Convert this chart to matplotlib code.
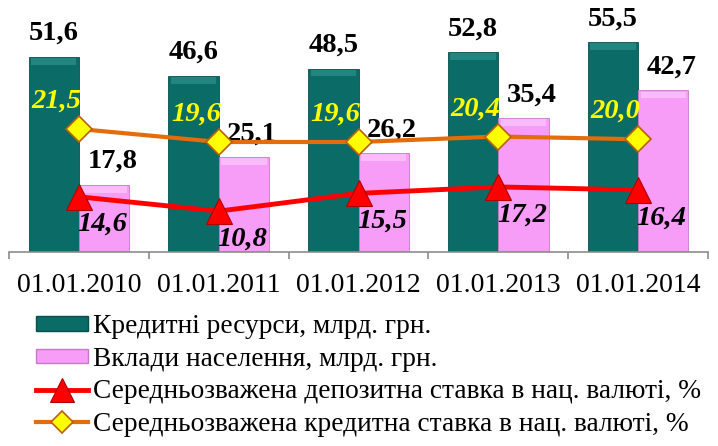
import matplotlib
matplotlib.use("Agg")
import matplotlib.pyplot as plt
from matplotlib.patches import Patch
from matplotlib.lines import Line2D
import numpy as np

# Data
dates = ['01.01.2010', '01.01.2011', '01.01.2012', '01.01.2013', '01.01.2014']
credit_res = [51.6, 46.6, 48.5, 52.8, 55.5]        # кредитні ресурси, млрд. грн
deposits = [17.8, 25.1, 26.2, 35.4, 42.7]          # вклади населення, млрд. грн
deposit_rate = [14.6, 10.8, 15.5, 17.2, 16.4]      # депозитна ставка, %
credit_rate = [21.5, 19.6, 19.6, 20.4, 20.0]       # кредитна ставка, %

labels = ['Кредитні ресурси, млрд. грн.',
          'Вклади населення, млрд. грн.',
          'Середньозважена депозитна ставка в нац. валюті, %',
          'Середньозважена кредитна ставка в нац. валюті, %']

TEAL = '#0b6b66'
TEAL_TOP = '#2c918a'
TEAL_EDGE = '#07504c'
PINK = '#f79cf7'
PINK_TOP = '#fcc4fc'
PINK_EDGE = '#c77ac7'
ORANGE = '#e46c0a'
RED = '#ff0000'

plt.rcParams['font.family'] = ['Liberation Serif', 'DejaVu Serif']

fig = plt.figure(figsize=(7.18, 4.46), dpi=100)
ax = fig.add_axes([9 / 718, 1 - 252 / 446, 699 / 718, 227 / 446])

x = np.arange(len(dates))
w = 0.36
off = 0.18
bev = 1.8


def fmt(v):
    return f'{v:.1f}'.replace('.', ',')


# bars with a lighter bevel along the top edge
ax.bar(x - off, credit_res, w, color=TEAL, edgecolor=TEAL_EDGE, linewidth=0.6, zorder=2)
ax.bar(x - off, bev, w * 0.9, bottom=np.array(credit_res) - bev - 0.3, color=TEAL_TOP,
       linewidth=0, zorder=2.1, alpha=0.7)
ax.bar(x + off, deposits, w, color=PINK, edgecolor=PINK_EDGE, linewidth=0.6, zorder=2)
ax.bar(x + off, bev, w * 0.9, bottom=np.array(deposits) - bev - 0.3, color=PINK_TOP,
       linewidth=0, zorder=2.1, alpha=0.8)

ax.plot(x, deposit_rate, color=RED, lw=3.5, marker='^', ms=19, mfc=RED,
        mec='#b00000', mew=0.8, zorder=4)

for xi, v in zip(x, credit_res):
    ax.annotate(fmt(v), (xi - off, v), xytext=(0, 12),
                textcoords='offset points', ha='center', va='baseline',
                fontsize=20.5, fontweight='bold', zorder=6)
for xi, v in zip(x, deposits):
    ax.annotate(fmt(v), (xi + off, v), xytext=(6, 12),
                textcoords='offset points', ha='center', va='baseline',
                fontsize=20.5, fontweight='bold', zorder=6)
for xi, v in zip(x, deposit_rate):
    ax.annotate(fmt(v), (xi, v), xytext=(17, -20),
                textcoords='offset points', ha='center', va='center',
                fontsize=20.5, fontweight='bold', fontstyle='italic', zorder=6)

ax.set_xlim(-0.5, len(dates) - 0.5)
ax.set_ylim(0, 60)
ax.set_xticks(x)
ax.set_xticklabels(dates, fontsize=20)
ax.set_xticks(np.arange(-0.5, len(dates)), minor=True)
ax.tick_params(axis='x', which='major', length=0, pad=15)
ax.tick_params(axis='x', which='minor', length=5, width=1.2, color='#8c8c8c')
ax.set_yticks([])
for s in ['left', 'right', 'top']:
    ax.spines[s].set_visible(False)
ax.spines['bottom'].set_color('#8c8c8c')
ax.spines['bottom'].set_linewidth(1.2)

# кредитна ставка on the secondary axis
ax2 = ax.twinx()
ax2.set_ylim(3.52, 36.7)
ax2.plot(x, credit_rate, color=ORANGE, lw=3, marker='D', ms=13, mfc='#ffff00',
         mec='#b8600a', mew=1.2, zorder=4)
for xi, v in zip(x, credit_rate):
    ax2.annotate(fmt(v), (xi, v), xytext=(-16.5, 20),
                 textcoords='offset points', ha='center', va='center',
                 fontsize=20.5, fontweight='bold', fontstyle='italic', color='#ffff00',
                 zorder=6)
ax2.set_yticks([])
for s in ax2.spines.values():
    s.set_visible(False)

handles = [
    Patch(facecolor=TEAL, edgecolor=TEAL_EDGE),
    Patch(facecolor=PINK, edgecolor=PINK_EDGE),
    Line2D([], [], color=RED, lw=3.5, marker='^', ms=17, mfc=RED, mec='#b00000', mew=0.8),
    Line2D([], [], color=ORANGE, lw=3, marker='D', ms=11, mfc='#ffff00', mec='#b8600a', mew=1.2),
]
fig.legend(handles, labels, loc='upper left', bbox_to_anchor=(36 / 718, 1 - 314 / 446),
           frameon=False, fontsize=19.7, borderpad=0, borderaxespad=0,
           handlelength=1.9, handleheight=0.45, handletextpad=0.2, labelspacing=0.28)

fig.savefig('out.png', dpi=100)
